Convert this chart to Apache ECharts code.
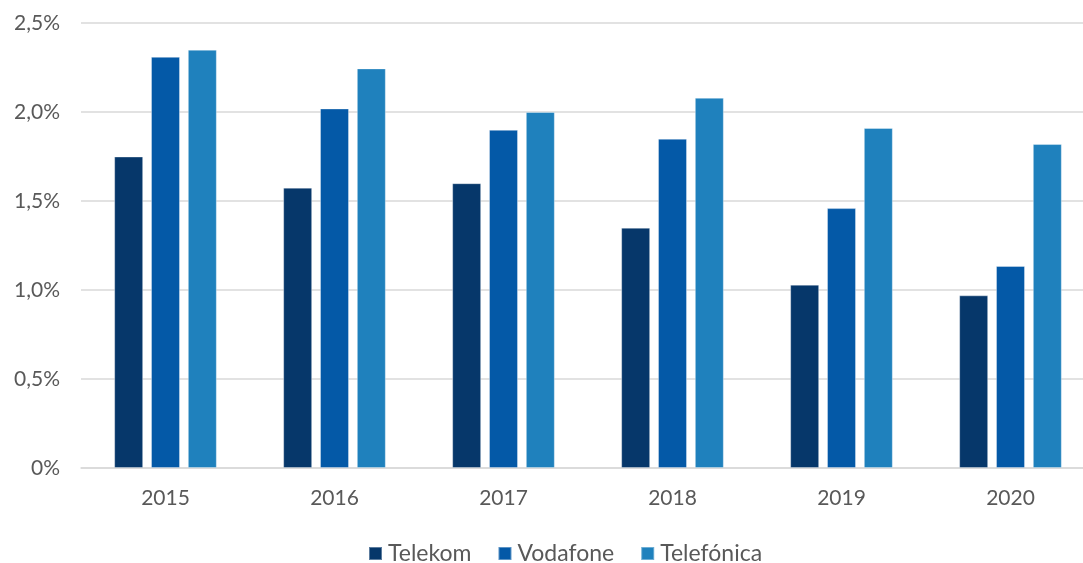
<!DOCTYPE html>
<html>
<head>
<meta charset="utf-8">
<script src="https://cdn.jsdelivr.net/npm/echarts@6/dist/echarts.min.js"></script>
<style>html,body{margin:0;padding:0;background:#fff;overflow:hidden;width:1083px;height:563px;}#c{width:1095px;height:563px;}</style>
</head>
<body>
<div id="c"></div>
<script>
const categories = ['2015','2016','2017','2018','2019','2020'];
const telekom = [1.75, 1.575, 1.60, 1.35, 1.03, 0.97];
const vodafone = [2.31, 2.02, 1.90, 1.85, 1.46, 1.135];
const telefonica = [2.35, 2.245, 2.00, 2.08, 1.91, 1.82];
const seriesNames = ['Telekom', 'Vodafone', 'Telefónica'];
const colors = ['#06376A', '#0459A7', '#1F81BD'];

const chart = echarts.init(document.getElementById('c'));
const font = 'Lato, "Open Sans", sans-serif';
const mk = (name, data, i) => ({
  name, type: 'bar', data,
  barWidth: 29, barGap: '27%',
  itemStyle: { color: colors[i], borderColor: 'rgba(255,255,255,0.35)', borderWidth: 1 },
  emphasis: { disabled: true }
});
chart.setOption({
  animation: false,
  color: colors,
  grid: { left: 81, top: 23, right: 0, bottom: 95 },
  legend: {
    top: 542, left: 368, padding: 0,
    icon: 'rect', itemWidth: 13, itemHeight: 13, itemGap: 26,
    textStyle: { fontFamily: font, fontSize: 23, lineHeight: 22, color: '#595959', padding: [0, 0, 0, 1] },
    data: seriesNames
  },
  xAxis: {
    type: 'category', data: categories,
    axisLine: { lineStyle: { color: '#d9d9d9', width: 1.5 } },
    axisTick: { show: false },
    axisLabel: { fontFamily: font, fontSize: 21, color: '#595959', margin: 20 }
  },
  yAxis: {
    type: 'value', min: 0, max: 2.5, interval: 0.5,
    axisLine: { show: false }, axisTick: { show: false },
    splitLine: { lineStyle: { color: '#d9d9d9', width: 1.5 } },
    axisLabel: {
      fontFamily: font, fontSize: 21, color: '#595959', margin: 21,
      formatter: v => v === 0 ? '0%' : v.toFixed(1).replace('.', ',') + '%'
    }
  },
  series: [mk(seriesNames[0], telekom, 0), mk(seriesNames[1], vodafone, 1), mk(seriesNames[2], telefonica, 2)]
});
</script>
</body>
</html>
